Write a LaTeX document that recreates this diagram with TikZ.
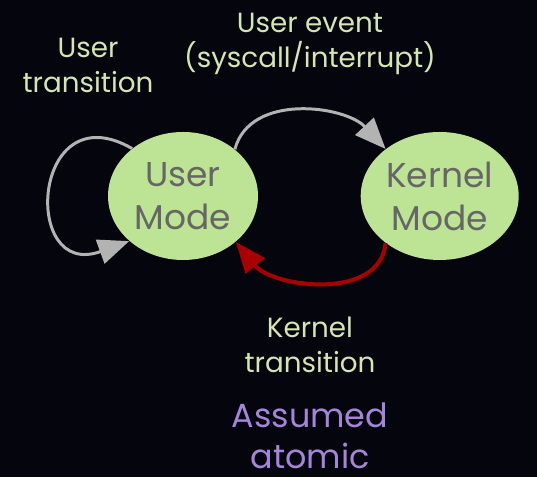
\documentclass[tikz,border=0pt]{standalone}
\usepackage{fontspec}
\setmainfont{Poppins}
\usetikzlibrary{shapes.geometric, positioning, arrows.meta}
\definecolor{bgdark}{HTML}{05050D}
\definecolor{modegreen}{HTML}{BDE394}
\definecolor{modetext}{HTML}{666666}
\definecolor{labelgreen}{HTML}{D3E6B3}
\definecolor{atomicpurple}{HTML}{A585D9}
\definecolor{arrowgray}{HTML}{B3B3B3}
\definecolor{arrowred}{HTML}{A80000}

\begin{document}
\begin{tikzpicture}[
  node distance=2.04cm,
  modenode/.style={ellipse,fill=modegreen,text=modetext,inner sep=0pt,
    minimum height=2.56cm,align=center,font=\fontsize{19.6}{24.5}\selectfont},
  lbl/.style={text=labelgreen,align=center,font=\fontsize{15.8}{19.9}\selectfont},
  usergo/.style={draw=arrowgray,line width=1.7pt,-{Triangle[length=0.62cm,width=0.5cm]}},
  kernelgo/.style={draw=arrowred,line width=2.3pt,-{Triangle[length=0.62cm,width=0.48cm]}}
]
\fill[bgdark] (0,0) rectangle (10.74,-9.54);
\useasboundingbox (0,0) rectangle (10.74,-9.54);

\node[modenode,minimum width=3.0cm] (user) at (3.66,-3.92) {User\\Mode};
\node[modenode,minimum width=3.16cm,right=of user] (kernel) {Kernel\\Mode};

\node[lbl] (ulbl) at (1.76,-1.3) {User\\transition};
\node[lbl] (elbl) at (6.2,-0.88) {User event\\(syscall/interrupt)};
\node[lbl] (klbl) at (6.2,-6.89) {Kernel\\transition};
\node[text=atomicpurple,align=center,inner sep=0pt,font=\fontsize{19}{23.3}\selectfont] (atomic)
  at (6.2,-8.72) {Assumed\\atomic};

\path (user.137) edge[usergo,out=150,in=200,looseness=3.2] (user.220)
(user.42) edge[usergo,out=75,in=133] (kernel.139)
(kernel.-139) edge[kernelgo,out=-95,in=-51] (user.-41);

\end{tikzpicture}
\end{document}
